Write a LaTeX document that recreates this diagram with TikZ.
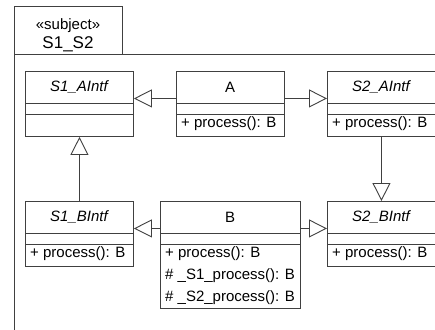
\documentclass[tikz,border=0pt]{standalone}
\usepackage{fontspec}
\setmainfont{Liberation Sans}
\usetikzlibrary{arrows.meta}
\begin{document}
\begin{tikzpicture}[x=1pt,y=-1pt,
  ln/.style={draw=black!75, line width=0.9pt},
  cls/.style={ln, rectangle, inner sep=0pt, anchor=north west, minimum width=108pt, minimum height=65pt},
  txt/.style={font=\fontsize{15}{18}\selectfont, inner sep=0pt},
  itxt/.style={font=\fontsize{15}{18}\selectfont\itshape, inner sep=0pt},
  optxt/.style={txt, anchor=mid west},
  inh/.style={ln, -{Triangle[open, length=18pt, width=18pt, fill=white, line width=0.9pt]}}
]
\clip (0,0) rectangle (435,329);
\fill[white] (0,0) rectangle (435,329);
% package frame
\node[cls, minimum width=108pt, minimum height=48pt] (tab) at (14,6) {};
\draw[ln] (14,345) -- (14,54) -- (450,54);
\node[txt] (stereo) at (68,26) {«subject»};
\node[txt, font=\fontsize{17}{20}\selectfont] (pkg) at (68,44) {S1\_S2};
% S1_AIntf
\node[cls] (S1A) at (25,71) {};
\node[itxt] (S1Aname) at (79,87) {S1\_AIntf};
\draw[ln] (25,103) -- (133,103) (25,114) -- (133,114);
% A
\node[cls] (A) at (176,71) {};
\node[txt] (Aname) at (230,87) {A};
\draw[ln] (176,103) -- (284,103) (176,114) -- (284,114);
\node[optxt] (Aop) at (181,125) {+ process(): B};
% S2_AIntf
\node[cls, minimum width=110pt] (S2A) at (327,71) {};
\node[itxt] (S2Aname) at (381,87) {S2\_AIntf};
\draw[ln] (327,103) -- (440,103) (327,114) -- (440,114);
\node[optxt] (S2Aop) at (332,125) {+ process(): B};
% S1_BIntf
\node[cls] (S1B) at (25,201) {};
\node[itxt] (S1Bname) at (79,217) {S1\_BIntf};
\draw[ln] (25,233) -- (133,233) (25,244) -- (133,244);
\node[optxt] (S1Bop) at (30,255) {+ process(): B};
% B
\node[cls, minimum width=140pt, minimum height=107pt] (B) at (160,201) {};
\node[txt] (Bname) at (230,217) {B};
\draw[ln] (160,233) -- (300,233) (160,244) -- (300,244);
\node[optxt] (Bop1) at (165,255) {+ process(): B};
\node[optxt] (Bop2) at (165,277) {\# \_S1\_process(): B};
\node[optxt] (Bop3) at (165,299) {\# \_S2\_process(): B};
% S2_BIntf
\node[cls, minimum width=110pt] (S2B) at (327,201) {};
\node[itxt] (S2Bname) at (381,217) {S2\_BIntf};
\draw[ln] (327,233) -- (440,233) (327,244) -- (440,244);
\node[optxt] (S2Bop) at (332,255) {+ process(): B};
% generalizations
\draw[inh] ([yshift=5.5pt]A.west) -- ([yshift=5.5pt]S1A.east);
\draw[inh] ([yshift=5.5pt]A.east) -- ([yshift=5.5pt]S2A.west);
\draw[inh] (S1B.north) -- (S1A.south);
\draw[inh] ([xshift=-1pt]S2A.south) -- ([xshift=-1pt]S2B.north);
\draw[inh] ([yshift=26.5pt]B.west) -- ([yshift=5.5pt]S1B.east);
\draw[inh] ([yshift=26.5pt]B.east) -- ([yshift=5.5pt]S2B.west);
\end{tikzpicture}
\end{document}
